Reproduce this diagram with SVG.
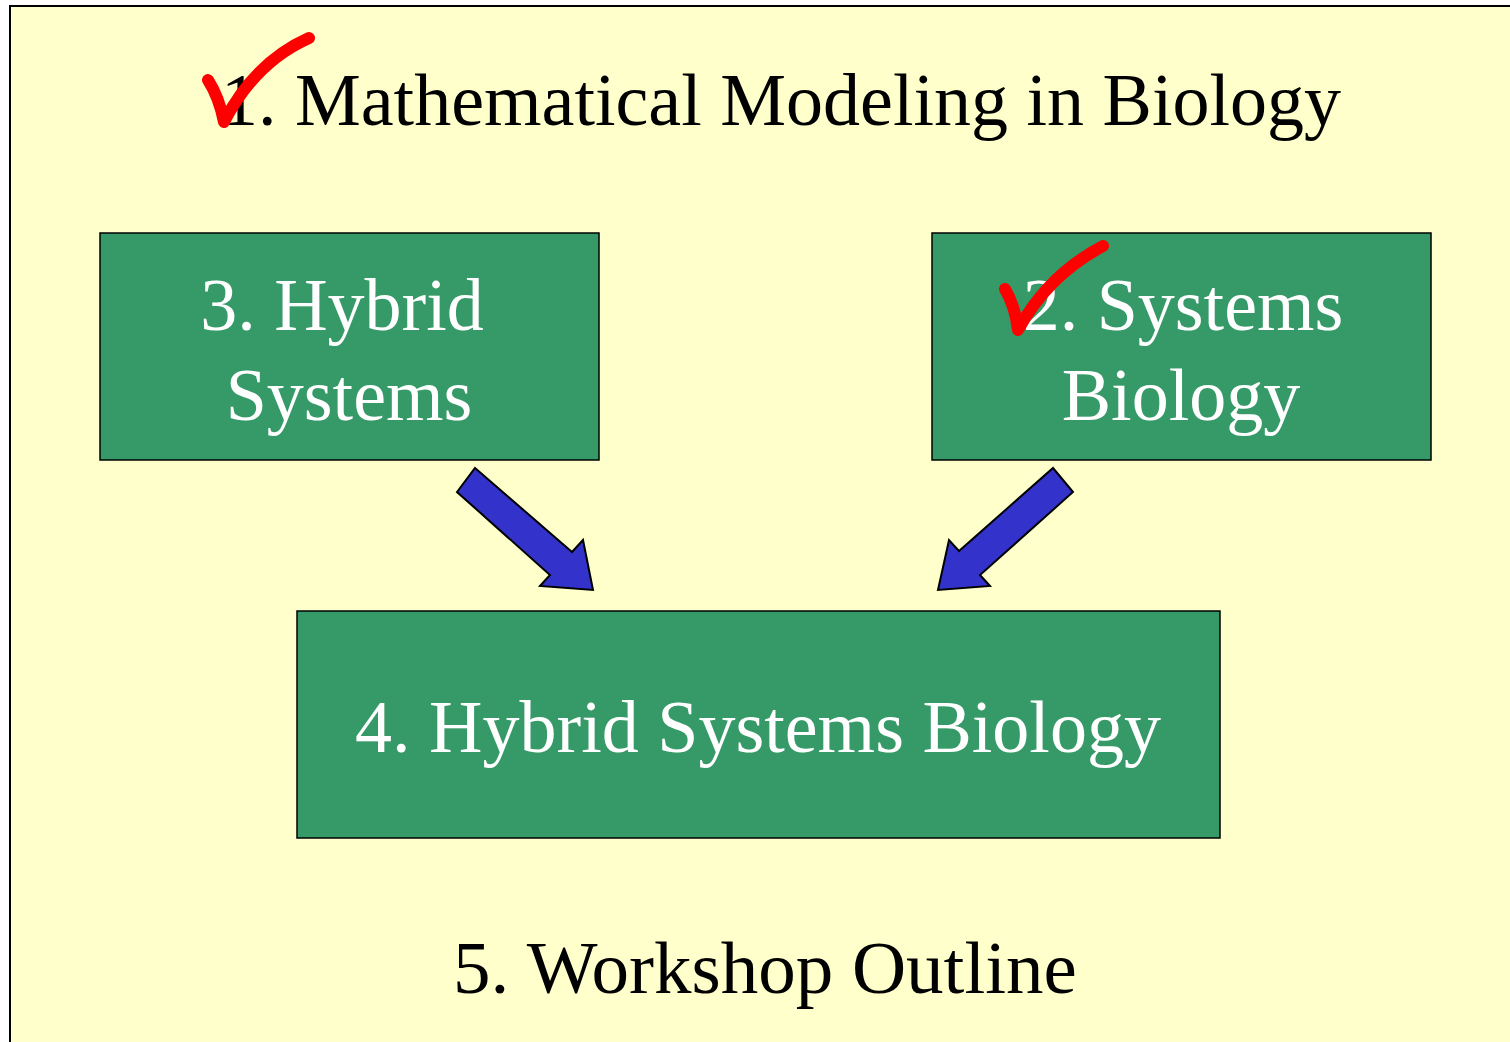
<svg xmlns="http://www.w3.org/2000/svg" width="1510" height="1042" viewBox="0 0 1510 1042">
<style>
.box{fill:#369a68;stroke:#000;stroke-width:1.5}
.wt{font-family:"Liberation Serif","Times New Roman",serif;font-size:74px;fill:#fff;text-anchor:middle}
.bt{font-family:"Liberation Serif","Times New Roman",serif;font-size:74px;fill:#000;text-anchor:middle}
.arr{fill:#3333cc;stroke:#000;stroke-width:2;stroke-linejoin:miter}
.chk{fill:none;stroke:#ff0000;stroke-width:12;stroke-linecap:round;stroke-linejoin:round}
</style>
<rect x="0" y="0" width="1510" height="1042" fill="#fff"/>
<rect x="10" y="6" width="1502" height="1040" fill="#ffffcc" stroke="#000" stroke-width="2"/>
<g id="title">
<text class="bt" x="781" y="125">1. Mathematical Modeling in Biology</text>
<path class="chk" d="M208,80 Q219,97 224,122 Q255,62 309,38"/>
</g>
<g id="node3">
<rect class="box" x="100" y="233" width="499" height="227"/>
<text class="wt" x="342" y="330">3. Hybrid</text>
<text class="wt" x="349" y="420">Systems</text>
</g>
<g id="node2">
<rect class="box" x="932" y="233" width="499" height="227"/>
<text class="wt" x="1183" y="330">2. Systems</text>
<text class="wt" x="1181" y="420">Biology</text>
<path class="chk" d="M1005,289 Q1015,306 1018,330 Q1048,275 1103,246"/>
</g>
<g id="node4">
<rect class="box" x="297" y="611" width="923" height="227"/>
<text class="wt" x="758" y="752">4. Hybrid Systems Biology</text>
</g>
<g id="node5">
<text class="bt" x="765" y="993" style="font-size:75px">5. Workshop Outline</text>
</g>
<g id="connectors">
<polygon class="arr" points="475,468 572,552 583,540 593,590 540,586 550,575 457,492"/>
<polygon class="arr" points="1053,468 1073,492 980,575 990,586 938,590 949,540 959,551"/>
</g>
</svg>
